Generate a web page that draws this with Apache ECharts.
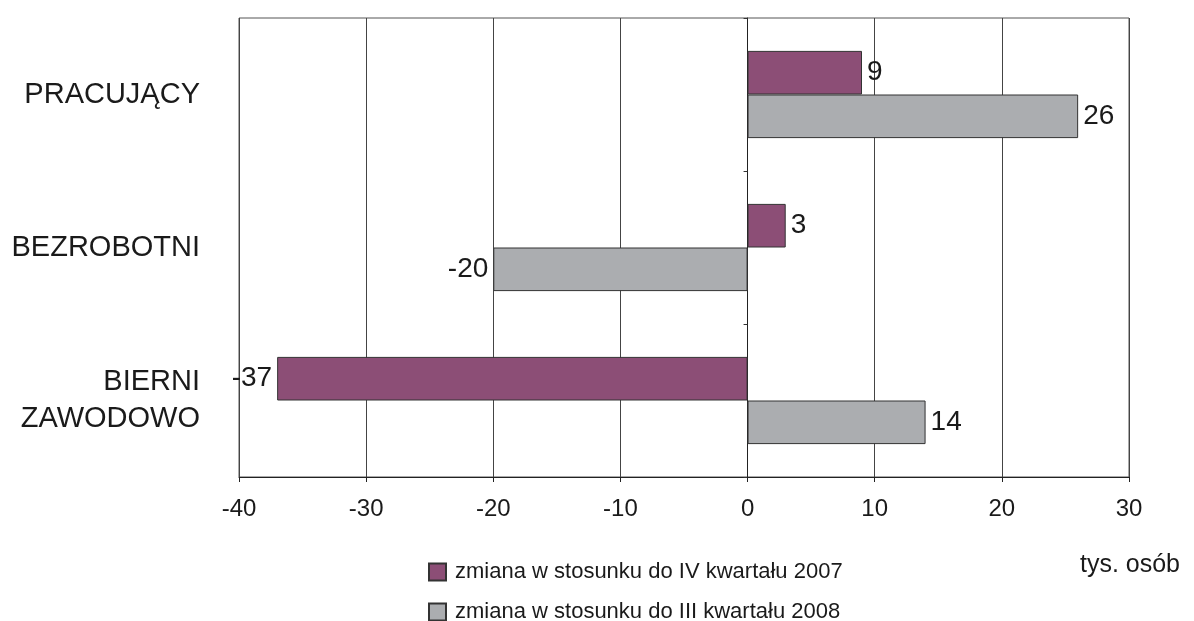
<!DOCTYPE html>
<html>
<head>
<meta charset="utf-8">
<script src="https://cdn.jsdelivr.net/npm/echarts@6/dist/echarts.min.js"></script>
<style>
html,body{margin:0;padding:0;background:#fff;}
#chart{width:1194px;height:621px;}
</style>
</head>
<body>
<div id="chart"></div>
<script>
const categories = ['PRACUJĄCY', 'BEZROBOTNI', 'BIERNI\nZAWODOWO'];
const seriesNames = ['zmiana w stosunku do IV kwartału 2007', 'zmiana w stosunku do III kwartału 2008'];
const changeVsQ4_2007 = [9, 3, -37];
const changeVsQ3_2008 = [26, -20, 14];
const xTicks = { min: -40, max: 30, interval: 10 };
const unitLabel = 'tys. osób';

const FONT = 'Liberation Sans, Arial, sans-serif';
const TEXT = '#1a1a1a';

function withLabels(arr) {
  return arr.map(v => ({ value: v, label: { position: v < 0 ? 'left' : 'right' } }));
}

function legendFor(name, top) {
  return {
    orient: 'vertical', left: 428, top: top, padding: 0,
    itemWidth: 17, itemHeight: 17, itemGap: 10,
    icon: 'rect',
    textStyle: { fontFamily: FONT, fontSize: 22, color: TEXT, padding: [0, 0, 0, 4] },
    data: [name]
  };
}

const chart = echarts.init(document.getElementById('chart'), null, { renderer: 'canvas' });
chart.setOption({
  animation: false,
  backgroundColor: '#fff',
  textStyle: { fontFamily: FONT, color: TEXT },
  grid: { left: 239, right: 65, top: 18, bottom: 144, show: true, borderColor: '#555', borderWidth: 1, backgroundColor: 'transparent' },
  title: {
    text: unitLabel, right: 14, top: 553, padding: 0,
    textStyle: { fontFamily: FONT, fontSize: 25, fontWeight: 'normal', color: TEXT }
  },
  legend: [legendFor(seriesNames[0], 561), legendFor(seriesNames[1], 601)],
  xAxis: {
    type: 'value', min: xTicks.min, max: xTicks.max, interval: xTicks.interval,
    axisLine: { show: true, onZero: false, lineStyle: { color: '#222', width: 1 } },
    axisTick: { show: true, length: 5, lineStyle: { color: '#222' } },
    axisLabel: { fontFamily: FONT, fontSize: 24, color: TEXT, margin: 20 },
    splitLine: { show: true, lineStyle: { color: '#444', width: 1 } }
  },
  yAxis: [
    {
      type: 'category', data: categories, inverse: true, position: 'left',
      axisLine: { show: false, onZero: false },
      axisTick: { show: false },
      axisLabel: { fontFamily: FONT, fontSize: 29, color: TEXT, margin: 39, align: 'right', lineHeight: 37 },
      splitLine: { show: false }
    },
    {
      type: 'category', data: categories, inverse: true, position: 'left',
      axisLine: { show: true, onZero: true, lineStyle: { color: '#222', width: 1 } },
      axisTick: { show: true, length: 4, lineStyle: { color: '#333' } },
      axisLabel: { show: false },
      splitLine: { show: false }
    }
  ],
  series: [
    {
      name: seriesNames[0], type: 'bar', yAxisIndex: 0,
      data: withLabels(changeVsQ4_2007),
      barGap: '0%', barCategoryGap: '43%',
      itemStyle: { color: '#8C4E76', borderColor: '#333', borderWidth: 1 },
      label: { show: true, fontFamily: FONT, fontSize: 28, color: TEXT, distance: 5 }
    },
    {
      name: seriesNames[1], type: 'bar', yAxisIndex: 0,
      data: withLabels(changeVsQ3_2008),
      barGap: '0%', barCategoryGap: '43%',
      itemStyle: { color: '#ABADB0', borderColor: '#333', borderWidth: 1 },
      label: { show: true, fontFamily: FONT, fontSize: 28, color: TEXT, distance: 5 }
    }
  ]
});
</script>
</body>
</html>
